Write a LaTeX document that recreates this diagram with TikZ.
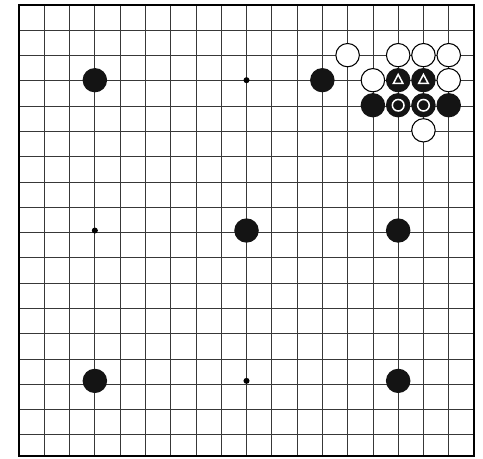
\documentclass[tikz,border=0pt]{standalone}
\begin{document}
\begin{tikzpicture}[
        x=1cm, y=-0.9913cm,
        blackstone/.style = {fill = black!92},
        whitestone/.style = {
            fill = white,
            draw = black,
            line width = 1.2pt
        },
        stonemark/.style = {
            draw = white,
            line width = 1.7pt
        }
    ]
            \useasboundingbox (-0.752,-0.2) rectangle (18.356,18.08);
            \draw[line width = 0.8pt, black!78] (0,0) grid (18,18);
            \draw[line width = 1.9pt] (0,0) rectangle (18,18);
            % hoshi
            \fill (9,3) circle (0.12);
            \fill (3,9) circle (0.12);
            \fill (9,15) circle (0.12);
            % black stones
            \fill[blackstone] (3,3) circle (0.485);
            \fill[blackstone] (12,3) circle (0.485);
            \fill[blackstone] (9,9) circle (0.485);
            \fill[blackstone] (15,9) circle (0.485);
            \fill[blackstone] (3,15) circle (0.485);
            \fill[blackstone] (15,15) circle (0.485);
            \fill[blackstone] (14,4) circle (0.485);
            \fill[blackstone] (15,3) circle (0.485);
            \fill[blackstone] (16,3) circle (0.485);
            \fill[blackstone] (15,4) circle (0.485);
            \fill[blackstone] (16,4) circle (0.485);
            \fill[blackstone] (17,4) circle (0.485);
            % white stones
            \filldraw[whitestone] (13,2) circle (0.465);
            \filldraw[whitestone] (15,2) circle (0.465);
            \filldraw[whitestone] (16,2) circle (0.465);
            \filldraw[whitestone] (17,2) circle (0.465);
            \filldraw[whitestone] (14,3) circle (0.465);
            \filldraw[whitestone] (17,3) circle (0.465);
            \filldraw[whitestone] (16,5) circle (0.465);
            % marks
            \draw[stonemark] (15,2.77) -- (14.81,3.13) -- (15.19,3.13) -- cycle;
            \draw[stonemark] (16,2.77) -- (15.81,3.13) -- (16.19,3.13) -- cycle;
            \draw[stonemark] (15,4) circle (0.23);
            \draw[stonemark] (16,4) circle (0.23);
        \end{tikzpicture}
\end{document}
